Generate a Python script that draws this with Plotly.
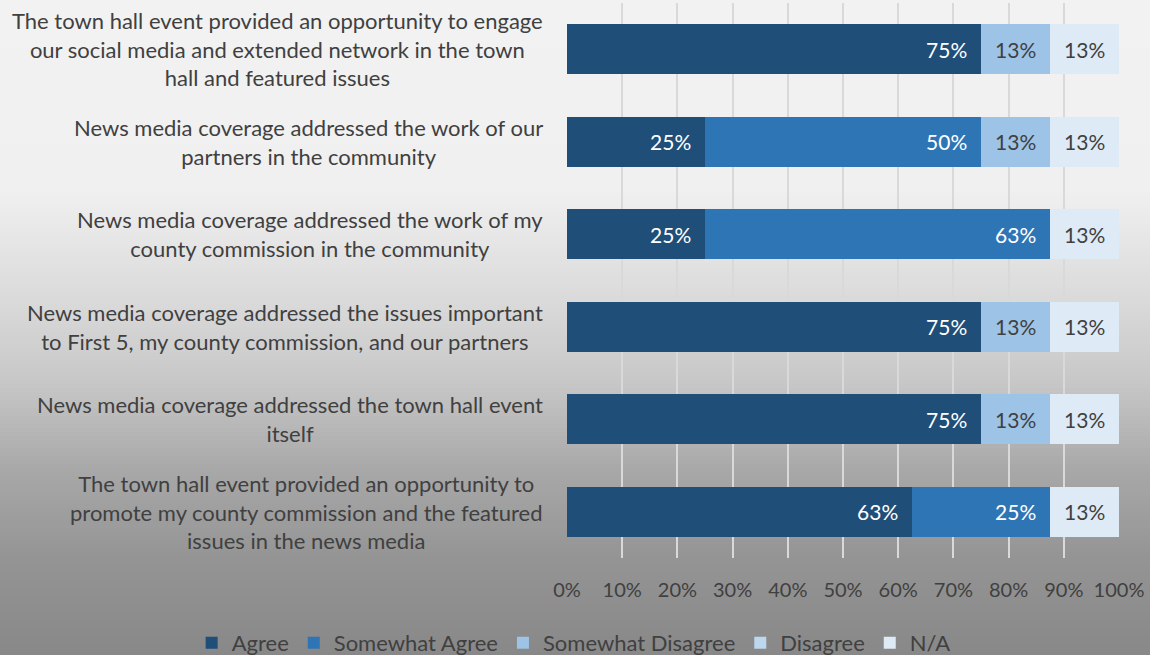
import plotly.graph_objects as go

# Survey statements (top to bottom as displayed)
statements = [
    "The town hall event provided an opportunity to engage<br>our social media and extended network in the town<br>hall and featured issues",
    "News media coverage addressed the work of our<br>partners in the community",
    "News media coverage addressed the work of my<br>county commission in the community",
    "News media coverage addressed the issues important<br>to First 5, my county commission, and our partners",
    "News media coverage addressed the town hall event<br>itself",
    "The town hall event provided an opportunity to<br>promote my county commission and the featured<br>issues in the news media",
]

# Share of responses per answer option
agree = [0.75, 0.25, 0.25, 0.75, 0.75, 0.625]
somewhat_agree = [0.0, 0.50, 0.625, 0.0, 0.0, 0.25]
somewhat_disagree = [0.125, 0.125, 0.0, 0.125, 0.125, 0.0]
disagree = [0.0, 0.0, 0.0, 0.0, 0.0, 0.0]
not_applicable = [0.125, 0.125, 0.125, 0.125, 0.125, 0.125]

x_ticks = [0, 0.1, 0.2, 0.3, 0.4, 0.5, 0.6, 0.7, 0.8, 0.9, 1.0]

series = [
    ("Agree", agree, "#1F4E79", "white"),
    ("Somewhat Agree", somewhat_agree, "#2E75B6", "white"),
    ("Somewhat Disagree", somewhat_disagree, "#9DC3E6", "#404040"),
    ("Disagree", disagree, "#BDD7EE", "#404040"),
    ("N/A", not_applicable, "#DEEBF7", "#404040"),
]

FONT = "Lato, 'Open Sans', sans-serif"
W, H = 1150, 655
ML, MR, MT, MB = 567, 31, 3, 97
PW, PH = W - ML - MR, H - MT - MB

y_pos = list(range(len(statements)))

fig = go.Figure()
pad = "\u00a0\u00a0"
for name, vals, color, tcolor in series:
    fig.add_trace(go.Bar(
        name=name,
        y=y_pos,
        x=vals,
        orientation="h",
        marker=dict(color=color, line=dict(width=0)),
        texttemplate=["%{x:.0%}" + pad if v else "" for v in vals],
        textposition="inside",
        insidetextanchor="end",
        textangle=0,
        textfont=dict(family=FONT, size=21, color=tcolor),
        hoverinfo="skip",
    ))

# Statement labels: right-edged blocks with centred lines
for i, s in enumerate(statements):
    fig.add_annotation(
        x=-22 / PW, y=i, xref="paper", yref="y",
        text=s, showarrow=False,
        xanchor="right", yanchor="middle", align="center",
        font=dict(family=FONT, size=22, color="#404040"),
    )

# Vertical background gradient, light at top fading to grey
stops = [(0, 242), (190, 240), (300, 218), (380, 200), (470, 168), (560, 148), (655, 136)]

def shade(py):
    for (a, ca), (b, cb) in zip(stops, stops[1:]):
        if a <= py <= b:
            return ca + (cb - ca) * (py - a) / (b - a)
    return stops[-1][1]

step = 4
for py in range(0, H, step):
    c = int(round(shade(py + step / 2)))
    fig.add_shape(
        type="rect", xref="paper", yref="paper", layer="below",
        x0=-ML / PW, x1=(W - ML) / PW,
        y0=(H - MB - py - 2 * step) / PH, y1=(H - MB - py) / PH,
        fillcolor=f"rgb({c},{c},{c})", line=dict(width=0),
    )

fig.update_layout(
    width=W, height=H,
    margin=dict(l=ML, r=MR, t=MT, b=MB, autoexpand=False),
    barmode="stack",
    bargap=0.46,
    paper_bgcolor="#F2F2F2",
    plot_bgcolor="rgba(0,0,0,0)",
    font=dict(family=FONT, color="#404040"),
    showlegend=True,
    legend=dict(
        orientation="h", x=-0.68, xanchor="left",
        y=-0.153, yanchor="middle",
        font=dict(family=FONT, size=22, color="#404040"),
        itemwidth=30, traceorder="normal",
        bgcolor="rgba(0,0,0,0)",
    ),
    xaxis=dict(
        range=[0, 1], tickvals=x_ticks, tickformat=".0%",
        showgrid=True, gridcolor="#D9D9D9", gridwidth=1.5,
        zeroline=False, showline=False,
        tickfont=dict(family=FONT, size=20, color="#404040"),
        ticks="", ticklabelstandoff=18,
    ),
    yaxis=dict(
        range=[5.5, -0.5], showticklabels=False, showgrid=False,
        zeroline=False, showline=False, ticks="",
    ),
)

fig.write_html("out.html")
